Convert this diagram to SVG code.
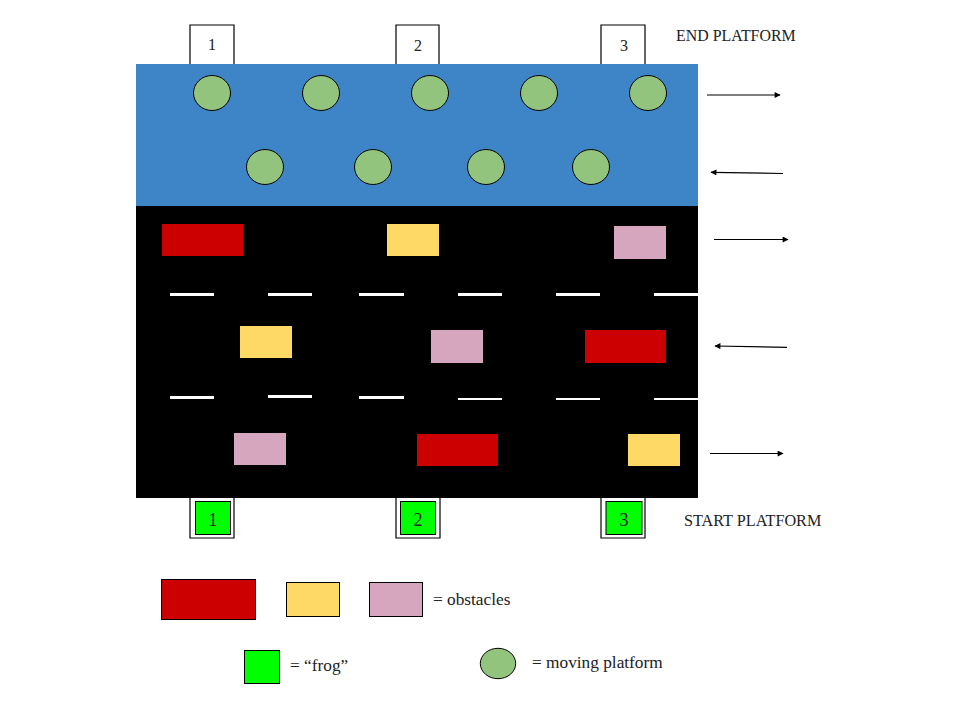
<svg xmlns="http://www.w3.org/2000/svg" width="960" height="720" viewBox="0 0 960 720">
<defs>
<style>
.t{font-family:"Liberation Serif","Times New Roman",serif;fill:#222}
.plat{fill:#93c47d;stroke:#000;stroke-width:1}
.frame{fill:none;stroke:#000;stroke-width:1.2}
.frog{fill:#00ff00;stroke:#000;stroke-width:1}
.dash{fill:#fff}
.red{fill:#cc0000}
.yel{fill:#ffd966}
.pink{fill:#d5a6bd}
.arr{stroke:#000;stroke-width:1.2;fill:none;marker-end:url(#ah)}
</style>
<marker id="ah" viewBox="0 0 10 10" refX="9" refY="5" markerWidth="9" markerHeight="6" markerUnits="userSpaceOnUse" orient="auto"><path d="M0,0 L10,5 L0,10 z" fill="#000"/></marker>
</defs>
<rect width="960" height="720" fill="#fff"/>
<g id="river"><rect x="136" y="64" width="562" height="142" fill="#3d85c6"/></g>
<g id="road"><rect x="136" y="206" width="562" height="292" fill="#000"/>
<rect class="dash" x="170" y="293" width="44" height="3"/>
<rect class="dash" x="268" y="293" width="44" height="3"/>
<rect class="dash" x="359" y="293" width="45" height="3"/>
<rect class="dash" x="458" y="293" width="44" height="3"/>
<rect class="dash" x="556" y="293" width="44" height="3"/>
<rect class="dash" x="654" y="293" width="44" height="3"/>
<rect class="dash" x="170" y="396" width="44" height="3"/>
<rect class="dash" x="268" y="395" width="44" height="3"/>
<rect class="dash" x="359" y="396" width="45" height="3"/>
<rect class="dash" x="458" y="398" width="44" height="2"/>
<rect class="dash" x="556" y="398" width="44" height="2"/>
<rect class="dash" x="654" y="398" width="44" height="2"/>
</g>
<g id="end-platforms">
<g id="end1"><path class="frame" d="M190,64 L190,25 L234,25 L234,64"/><text class="t" x="212" y="50" font-size="16" text-anchor="middle">1</text></g>
<g id="end2"><path class="frame" d="M396,64 L396,25 L439,25 L439,64"/><text class="t" x="418" y="51" font-size="16" text-anchor="middle">2</text></g>
<g id="end3"><path class="frame" d="M601,64 L601,25 L645,25 L645,64"/><text class="t" x="624" y="51" font-size="16" text-anchor="middle">3</text></g>
<text class="t" x="676" y="41" font-size="15.9">END PLATFORM</text>
</g>
<g id="moving-platforms">
<ellipse class="plat" cx="212" cy="93" rx="18.5" ry="17.5"/>
<ellipse class="plat" cx="321" cy="93" rx="18.5" ry="17.5"/>
<ellipse class="plat" cx="430" cy="93" rx="18.5" ry="17.5"/>
<ellipse class="plat" cx="539" cy="93" rx="18.5" ry="17.5"/>
<ellipse class="plat" cx="648" cy="93" rx="18.5" ry="17.5"/>
<ellipse class="plat" cx="265" cy="167" rx="18.5" ry="17.5"/>
<ellipse class="plat" cx="373" cy="167" rx="18.5" ry="17.5"/>
<ellipse class="plat" cx="486" cy="167" rx="18.5" ry="17.5"/>
<ellipse class="plat" cx="591" cy="167" rx="18.5" ry="17.5"/>
</g>
<g id="obstacles">
<rect class="red" x="162" y="224" width="81" height="32"/>
<rect class="yel" x="387" y="224" width="52" height="32"/>
<rect class="pink" x="614" y="226" width="52" height="33"/>
<rect class="yel" x="240" y="326" width="52" height="32"/>
<rect class="pink" x="431" y="330" width="52" height="33"/>
<rect class="red" x="585" y="330" width="81" height="33"/>
<rect class="pink" x="234" y="433" width="52" height="32"/>
<rect class="red" x="417" y="434" width="81" height="32"/>
<rect class="yel" x="628" y="434" width="52" height="32"/>
</g>
<g id="start-platforms">
<g id="start1"><path class="frame" d="M190,498 L190,538 L234,538 L234,498"/><rect class="frog" x="195.5" y="501.5" width="35" height="33"/><text class="t" x="213" y="526" font-size="18" text-anchor="middle">1</text></g>
<g id="start2"><path class="frame" d="M396,498 L396,538 L440,538 L440,498"/><rect class="frog" x="400.5" y="501.5" width="35" height="33"/><text class="t" x="418" y="526" font-size="18" text-anchor="middle">2</text></g>
<g id="start3"><path class="frame" d="M601,498 L601,538 L645,538 L645,498"/><rect class="frog" x="606" y="501.5" width="36" height="33"/><text class="t" x="624" y="526" font-size="18" text-anchor="middle">3</text></g>
<text class="t" x="684" y="526" font-size="16.2">START PLATFORM</text>
</g>
<g id="connectors">
<line class="arr" x1="707" y1="95" x2="780" y2="95"/>
<line class="arr" x1="783" y1="173.5" x2="711" y2="172.3"/>
<line class="arr" x1="714" y1="239.5" x2="788" y2="239.5"/>
<line class="arr" x1="787" y1="347.3" x2="715" y2="346"/>
<line class="arr" x1="710" y1="453.5" x2="783" y2="453.5"/>
</g>
<g id="legend">
<rect class="red" x="161.5" y="579.5" width="94" height="40" stroke="#000" stroke-width="1"/>
<rect class="yel" x="286.5" y="582.5" width="53" height="34" stroke="#000" stroke-width="1"/>
<rect class="pink" x="369.5" y="582.5" width="53" height="34" stroke="#000" stroke-width="1"/>
<text class="t" x="433" y="605" font-size="17.3">= obstacles</text>
<rect class="frog" x="244.5" y="650.5" width="35" height="33"/>
<text class="t" x="290" y="671" font-size="17.3">= “frog”</text>
<ellipse class="plat" cx="498" cy="663.5" rx="17.7" ry="15.2"/>
<text class="t" x="532" y="668" font-size="17.3">= moving platform</text>
</g>
</svg>
